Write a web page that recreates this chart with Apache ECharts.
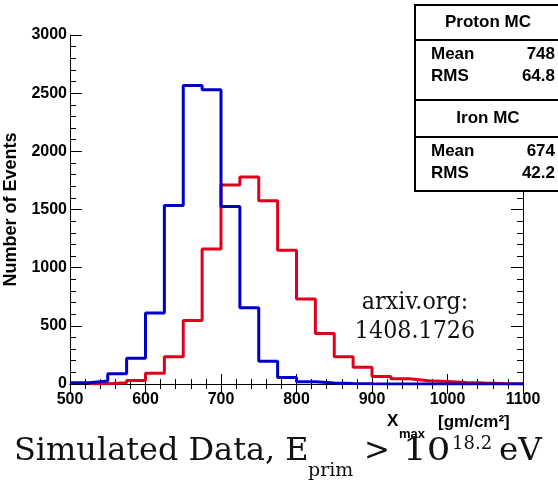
<!DOCTYPE html>
<html>
<head>
<meta charset="utf-8">
<script src="https://cdn.jsdelivr.net/npm/echarts@6/dist/echarts.min.js"></script>
<style>
html,body{margin:0;padding:0;background:#fff;}
#chart{width:558px;height:485px;}
</style>
</head>
<body>
<div id="chart"></div>
<script>
// ---- data ----
var binWidth = 25;
var ironStart = 500;
var ironCounts = [10, 25, 88, 222, 610, 1535, 2565, 2530, 1525, 655, 195, 55, 20, 8, 4, 2, 1, 1, 0, 0, 0, 0, 0, 0];
var protonStart = 525;
var protonCounts = [3, 10, 30, 92, 235, 545, 1160, 1710, 1780, 1575, 1150, 730, 435, 235, 145, 65, 45, 28, 22, 12, 8, 5, 3];
var xTicks = [500, 600, 700, 800, 900, 1000, 1100];
var yTicks = [0, 500, 1000, 1500, 2000, 2500, 3000];
var protonStats = {title: 'Proton MC', mean: '748', rms: '64.8'};
var ironStats = {title: 'Iron MC', mean: '674', rms: '42.2'};

function stepData(start, counts) {
  var d = [];
  for (var i = 0; i < counts.length; i++) d.push([start + i * binWidth, counts[i]]);
  d.push([start + counts.length * binWidth, counts[counts.length - 1]]);
  return d;
}

var SANS = '"Liberation Sans", Arial, Helvetica, sans-serif';
var SERIF = '"DejaVu Serif", serif';
var tickLabel = {fontFamily: SANS, fontWeight: 'bold', fontSize: 16, color: '#000', formatter: function (v) { return String(v); }};
var axLine = {show: true, lineStyle: {color: '#000', width: 1}};

var chart = echarts.init(document.getElementById('chart'), null, {renderer: 'canvas'});

function statBox(y0, h, headH, st) {
  var x0 = 415, w = 160;
  return [
    {type: 'rect', shape: {x: x0, y: y0, width: w, height: h}, style: {fill: '#fff', stroke: '#000', lineWidth: 2}, z: 100},
    {type: 'line', shape: {x1: x0, y1: y0 + headH, x2: x0 + w, y2: y0 + headH}, style: {stroke: '#000', lineWidth: 2}, z: 101},
    {type: 'text', x: 488, y: y0 + headH / 2, style: {text: st.title, font: 'bold 17px ' + SANS, fill: '#000', align: 'center', verticalAlign: 'middle'}, z: 102},
    {type: 'text', x: 431, y: y0 + headH + 14, style: {text: 'Mean', font: 'bold 17px ' + SANS, fill: '#000', align: 'left', verticalAlign: 'middle'}, z: 102},
    {type: 'text', x: 555, y: y0 + headH + 14, style: {text: st.mean, font: 'bold 17px ' + SANS, fill: '#000', align: 'right', verticalAlign: 'middle'}, z: 102},
    {type: 'text', x: 431, y: y0 + headH + 36, style: {text: 'RMS', font: 'bold 17px ' + SANS, fill: '#000', align: 'left', verticalAlign: 'middle'}, z: 102},
    {type: 'text', x: 555, y: y0 + headH + 36, style: {text: st.rms, font: 'bold 17px ' + SANS, fill: '#000', align: 'right', verticalAlign: 'middle'}, z: 102}
  ];
}

var graphics = [].concat(
  statBox(5, 95, 35, protonStats),
  statBox(100, 91, 37, ironStats),
  [
    {type: 'text', x: 415, y: 302, scaleX: 0.89, style: {text: 'arxiv.org:', font: '25px ' + SERIF, fill: '#111', align: 'center', verticalAlign: 'middle'}, z: 50},
    {type: 'text', x: 415, y: 331, scaleX: 0.89, style: {text: '1408.1726', font: '25px ' + SERIF, fill: '#111', align: 'center', verticalAlign: 'middle'}, z: 50},
    // x axis title
    {type: 'text', x: 387, y: 421, style: {text: 'X', font: 'bold 17px ' + SANS, fill: '#000', align: 'left', verticalAlign: 'middle'}},
    {type: 'text', x: 399, y: 434, style: {text: 'max', font: 'bold 13px ' + SANS, fill: '#000', align: 'left', verticalAlign: 'middle'}},
    {type: 'text', x: 438, y: 422, style: {text: '[gm/cm²]', font: 'bold 17px ' + SANS, fill: '#000', align: 'left', verticalAlign: 'middle'}},
    // bottom caption
    {type: 'text', x: 14, y: 452, scaleX: 1.03, style: {text: 'Simulated Data, E', font: '31px ' + SERIF, fill: '#111', align: 'left', verticalAlign: 'middle'}},
    {type: 'text', x: 308, y: 471, style: {text: 'prim', font: '19px ' + SERIF, fill: '#111', align: 'left', verticalAlign: 'middle'}},
    {type: 'text', x: 364, y: 452, style: {text: '>', font: '31px ' + SERIF, fill: '#111', align: 'left', verticalAlign: 'middle'}},
    {type: 'text', x: 403, y: 452, scaleX: 1.2, style: {text: '10', font: '31px ' + SERIF, fill: '#111', align: 'left', verticalAlign: 'middle'}},
    {type: 'text', x: 452, y: 444, style: {text: '18.2', font: '18px ' + SERIF, fill: '#111', align: 'left', verticalAlign: 'middle'}},
    {type: 'text', x: 499, y: 452, scaleX: 1.05, style: {text: 'eV', font: '31px ' + SERIF, fill: '#111', align: 'left', verticalAlign: 'middle'}}
  ]
);

var option = {
  backgroundColor: '#fff',
  animation: false,
  grid: {left: 70, right: 35, top: 35, bottom: 101, containLabel: false, outerBoundsMode: 'none'},
  xAxis: [
    {type: 'value', min: 500, max: 1100, interval: 100, position: 'bottom',
     axisLine: axLine, splitLine: {show: false},
     axisTick: {show: true, inside: true, length: 10, lineStyle: {color: '#000'}},
     minorTick: {show: true, splitNumber: 5, length: 5, lineStyle: {color: '#000'}},
     axisLabel: Object.assign({margin: 8, customValues: xTicks}, tickLabel)},
    {type: 'value', min: 500, max: 1100, interval: 100, position: 'top',
     axisLine: axLine, splitLine: {show: false},
     axisTick: {show: true, inside: true, length: 10, lineStyle: {color: '#000'}},
     minorTick: {show: true, splitNumber: 5, length: 5, lineStyle: {color: '#000'}},
     axisLabel: {show: false}}
  ],
  yAxis: [
    {type: 'value', min: 0, max: 3000, interval: 500, position: 'left',
     axisLine: axLine, splitLine: {show: false},
     axisTick: {show: true, inside: true, length: 12, lineStyle: {color: '#000'}},
     minorTick: {show: true, splitNumber: 5, length: 6, lineStyle: {color: '#000'}},
     axisLabel: Object.assign({margin: 3, customValues: yTicks}, tickLabel),
     name: 'Number of Events', nameLocation: 'middle', nameRotate: 90, nameGap: 45,
     nameTextStyle: {fontFamily: SANS, fontWeight: 'bold', fontSize: 18, color: '#000'}},
    {type: 'value', min: 0, max: 3000, interval: 500, position: 'right',
     axisLine: axLine, splitLine: {show: false},
     axisTick: {show: true, inside: true, length: 12, lineStyle: {color: '#000'}},
     minorTick: {show: true, splitNumber: 5, length: 6, lineStyle: {color: '#000'}},
     axisLabel: {show: false}}
  ],
  series: [
    {name: 'Proton MC', type: 'line', step: 'end', xAxisIndex: 0, yAxisIndex: 0,
     data: stepData(protonStart, protonCounts), showSymbol: false, symbol: 'none',
     lineStyle: {color: '#e0001b', width: 3}, z: 3},
    {name: 'Iron MC', type: 'line', step: 'end', xAxisIndex: 0, yAxisIndex: 0,
     data: stepData(ironStart, ironCounts), showSymbol: false, symbol: 'none',
     lineStyle: {color: '#0000c4', width: 3}, z: 4}
  ],
  graphic: graphics
};
chart.setOption(option);
</script>
</body>
</html>
